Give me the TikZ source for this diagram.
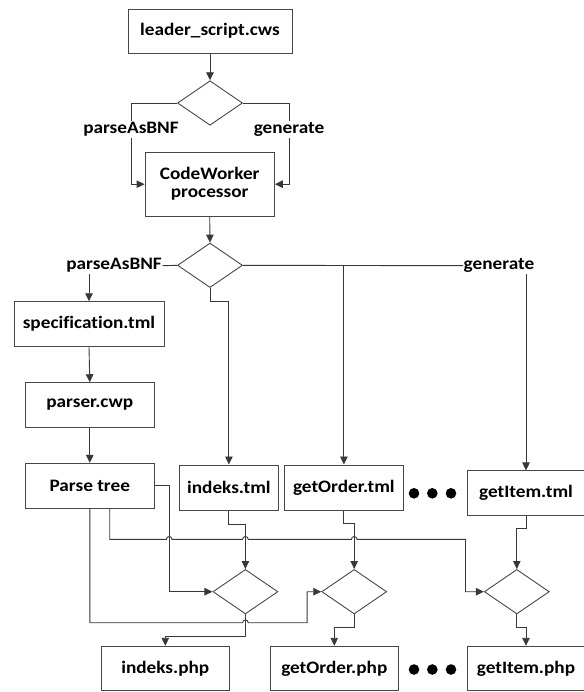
\documentclass[tikz,border=0pt]{standalone}
\usepackage{fontspec}
\setmainfont[FakeStretch=1.1, Ligatures={NoCommon}]{Carlito}
\usetikzlibrary{arrows.meta,shapes.geometric}
\begin{document}
\begin{tikzpicture}[x=1pt,y=-1pt,
  txt/.style={font=\bfseries\fontsize{17.5}{20}\selectfont},
  box/.style={txt, draw=black!72, line width=0.9pt, fill=white, align=center, inner sep=0pt},
  dia/.style={diamond, draw=black!72, line width=0.9pt, fill=white, minimum width=65pt, minimum height=44.5pt, inner sep=0pt},
  lab/.style={txt, inner xsep=0.5pt, inner ysep=1pt, fill=white},
  dot/.style={circle, fill=black, inner sep=0pt, minimum size=10.6pt},
  conn/.style={draw=black!78, line width=0.9pt},
  arr/.style={conn, -{Triangle[length=8pt,width=7.5pt]}},
  hop/.style={start angle=180, end angle=0, radius=2.8pt}]
\useasboundingbox (0,0) rectangle (583,692);
% boxes
\node[box, minimum width=164pt, minimum height=44pt] (leader) at (210,31.2) {leader\_script.cws};
\node[dia] (d1) at (210,103) {};
\node[box, minimum width=129.4pt, minimum height=63.7pt] (cw) at (209.7,184.2) {CodeWorker\\[-2pt]processor};
\node[dia] (d2) at (210,265.3) {};
\node[box, minimum width=150pt, minimum height=45pt] (spec) at (89,324.2) {specification.tml};
\node[box, minimum width=129pt, minimum height=44.6pt] (parser) at (89.8,405) {parser.cwp};
\node[box, minimum width=129pt, minimum height=45pt] (ptree) at (89.8,485.8) {Parse tree};
\node[box, minimum width=99.4pt, minimum height=45.7pt] (indeks) at (228.9,487.8) {indeks.tml};
\node[box, minimum width=119.5pt, minimum height=45.7pt] (getorder) at (343.9,487.8) {getOrder.tml};
\node[box, minimum width=118pt, minimum height=44.6pt] (getitem) at (526,493.2) {getItem.tml};
\node[dia] (d3) at (245.4,591.7) {};
\node[dia] (d4) at (354.2,591.7) {};
\node[dia] (d5) at (516.8,591.7) {};
\node[box, minimum width=128.3pt, minimum height=44.5pt] (indphp) at (165.3,668.5) {indeks.php};
\node[box, minimum width=128.7pt, minimum height=44.5pt] (gophp) at (334.3,668.5) {getOrder.php};
\node[box, minimum width=118pt, minimum height=44.5pt] (giphp) at (526,668.5) {getItem.php};
% dots
\node[dot] (ta) at (414,493.3) {};
\node[dot] (tb) at (432.3,493.3) {};
\node[dot] (tc) at (451,493.3) {};
\node[dot] (pa) at (414,669.5) {};
\node[dot] (pb) at (432.3,669.5) {};
\node[dot] (pc) at (451,669.5) {};
% labels
\node[lab] (lab1) at (131,129.3) {parseAsBNF};
\node[lab] (lab2) at (289,129.3) {generate};
\node[lab, anchor=east] (lab3) at (162.5,265.7) {parseAsBNF};
\node[lab, anchor=west] (lab4) at (463,265.7) {generate};
% helper coordinates
\coordinate (y301) at (0,301);
\coordinate (y524) at (0,524);
\coordinate (y523) at (0,523.3);
\coordinate (y528) at (0,528.3);
\coordinate (y539) at (0,539.3);
\coordinate (y623) at (0,622.7);
\coordinate (y637) at (0,636.7);
\coordinate (y628) at (0,627.7);
\coordinate (xa) at (169.2,0);
\coordinate (xb) at (109.7,0);
\coordinate (xc) at (465.5,0);
\coordinate (xd) at (307.1,0);
% connectors top
\draw[arr] (leader.south) -- (d1.north);
\draw[conn] (d1.west) -| (lab1.north);
\draw[arr] (lab1.south) |- (cw.west);
\draw[conn] (d1.east) -| (lab2.north);
\draw[arr] (lab2.south) |- (cw.east);
\draw[arr] (cw.south) -- (d2.north);
\draw[conn] (d2.west) -- (lab3.east);
\draw[arr] (lab3.south -| spec.north) -- (spec.north);
\draw[conn] (d2.east) -- (lab4.west);
\draw[arr] (lab4.south -| getitem.north) -- (getitem.north);
\draw[arr] (d2.east -| getorder.north) -- (getorder.north);
\draw[arr] (d2.south) -- (d2.south |- y301) -| (indeks.north);
\draw[arr] (spec.south) -- (parser.north);
\draw[arr] (parser.south) -- (ptree.north);
% connectors bottom
\draw[arr] (ptree.east) -- (ptree.east -| xa) |- (d3.west);
\draw[arr] (indeks.south) -- (indeks.south |- y524) -| (d3.north);
\draw[arr] (getorder.south) -- (getorder.south |- y523) -| (d4.north);
\draw[arr] (getitem.south) -- (getitem.south |- y528) -| (d5.north);
\draw[arr] (ptree.south -| xb) -- (xb |- y539)
  -- ([xshift=-2.8pt]xa |- y539) arc[hop]
  -- ([xshift=-2.8pt]d3.north |- y539) arc[hop]
  -- ([xshift=-2.8pt]d4.north |- y539) arc[hop]
  -- (xc |- y539) |- (d5.west);
\draw[arr] (ptree.south) -- (ptree.south |- y623)
  -- ([xshift=-2.8pt]d3.south |- y623) arc[hop]
  -- (xd |- y623) |- (d4.west);
\draw[arr] (d3.south) -- (d3.south |- y637) -| (indphp.north);
\draw[arr] (d4.south) -- (d4.south |- y628) -| (gophp.north);
\draw[arr] (d5.south) -- (d5.south |- y628) -| (giphp.north);
\end{tikzpicture}
\end{document}
